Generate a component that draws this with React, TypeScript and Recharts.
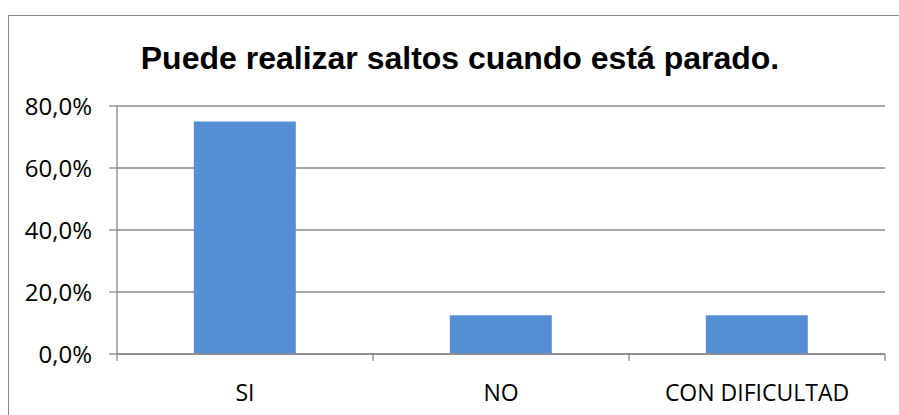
import { Bar, BarChart, CartesianGrid, XAxis, YAxis } from "recharts";

const categories = ["SI", "NO", "CON DIFICULTAD"];
const percentages = [75, 12.5, 12.5];
const yTicks = [0, 20, 40, 60, 80];
const boundaryTicks = [0, 1, 2, 3];

const data = categories.map((name, i) => ({ name, value: percentages[i], pos: i + 0.5 }));

const fmtPct = (v: number) => `${v.toFixed(1).replace(".", ",")}%`;

export default function App() {
  return (
    <div style={{ position: "absolute", left: 0, top: 0, width: 899, height: 415, overflow: "hidden", background: "#fff" }}>
      <div
        style={{
          position: "absolute",
          left: 8,
          top: 15,
          width: 940,
          height: 440,
          border: "1.5px solid #888",
          boxSizing: "border-box",
        }}
      />
      <div
        style={{
          position: "absolute",
          left: 0,
          width: 920,
          top: 38,
          textAlign: "center",
          fontFamily: "'Liberation Sans', Arial, sans-serif",
          fontWeight: "bold",
          fontSize: 32,
          lineHeight: "40px",
          color: "#000",
        }}
      >
        Puede realizar saltos cuando está parado.
      </div>
      <div style={{ position: "absolute", left: 0, top: 0 }}>
        <BarChart
          width={899}
          height={415}
          data={data}
          margin={{ top: 106, right: 14, bottom: 0, left: 0 }}
          barCategoryGap="30%"
        >
          <CartesianGrid vertical={false} stroke="#888" strokeWidth={1.3} />
          {/* axis line + tick marks at the category boundaries */}
          <XAxis
            xAxisId="bounds"
            type="number"
            dataKey="pos"
            domain={[0, 3]}
            ticks={boundaryTicks}
            axisLine={{ stroke: "#888", strokeWidth: 1.3 }}
            tickLine={{ stroke: "#888", strokeWidth: 1.3 }}
            tickSize={7}
            tick={() => <g />}
            height={1}
          />
          <XAxis
            dataKey="name"
            xAxisId="cat"
            axisLine={false}
            tickLine={false}
            tickMargin={24}
            tick={{ fill: "#000", fontSize: 23, fontFamily: "'Open Sans', sans-serif" }}
            interval={0}
            height={60}
          />
          <YAxis
            domain={[0, 80]}
            ticks={yTicks}
            tickFormatter={fmtPct}
            width={117}
            axisLine={{ stroke: "#888", strokeWidth: 1.3 }}
            tickLine={{ stroke: "#888", strokeWidth: 1.3 }}
            tickSize={8}
            tickMargin={17}
            tick={{ fill: "#000", fontSize: 24, fontFamily: "'Open Sans', sans-serif" }}
          />
          <Bar dataKey="value" xAxisId="cat" fill="#558ED5" isAnimationActive={false} />
        </BarChart>
      </div>
    </div>
  );
}
